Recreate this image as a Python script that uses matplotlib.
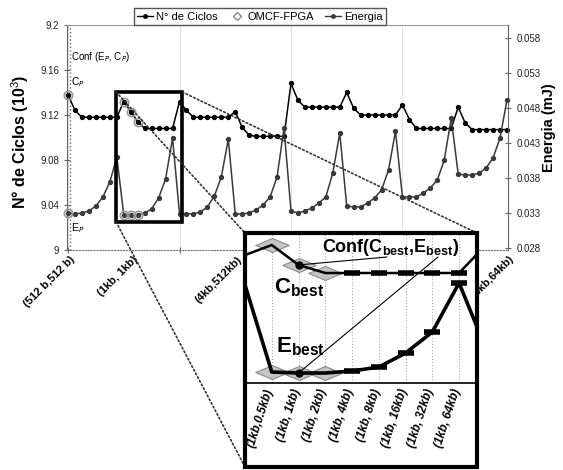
import matplotlib.pyplot as plt
import numpy as np
import matplotlib.transforms as mtransforms
from matplotlib.patches import Rectangle, ConnectionPatch
from matplotlib.lines import Line2D
from matplotlib.path import Path

plt.rcParams['font.family'] = ['Liberation Sans', 'DejaVu Sans']
plt.rcParams['mathtext.fontset'] = 'custom'
plt.rcParams['mathtext.rm'] = 'Liberation Sans'
plt.rcParams['mathtext.bf'] = 'Liberation Sans:bold'

W, H = 563, 470

# Nº de ciclos (10^3), 8 grupos de cache I x 8 tamaños de cache D
ciclos = [
    9.138, 9.124, 9.118, 9.118, 9.118, 9.118, 9.118, 9.118,
    9.132, 9.123, 9.114, 9.108, 9.108, 9.108, 9.108, 9.108,
    9.132, 9.124, 9.118, 9.118, 9.118, 9.118, 9.118, 9.118,
    9.123, 9.109, 9.102, 9.101, 9.101, 9.101, 9.101, 9.101,
    9.148, 9.133, 9.127, 9.127, 9.127, 9.127, 9.127, 9.127,
    9.140, 9.126, 9.120, 9.120, 9.120, 9.120, 9.120, 9.120,
    9.129, 9.116, 9.108, 9.108, 9.108, 9.108, 9.108, 9.108,
    9.127, 9.113, 9.107, 9.107, 9.107, 9.107, 9.107, 9.107,
]

# Energia (mJ)
energia = [
    0.03300, 0.03286, 0.03300, 0.03329, 0.03400, 0.03529, 0.03743, 0.04100,
    0.03271, 0.03271, 0.03271, 0.03300, 0.03357, 0.03514, 0.03786, 0.04371,
    0.03286, 0.03286, 0.03286, 0.03314, 0.03386, 0.03543, 0.03814, 0.04357,
    0.03286, 0.03286, 0.03300, 0.03343, 0.03414, 0.03529, 0.03814, 0.04514,
    0.03329, 0.03300, 0.03329, 0.03371, 0.03443, 0.03529, 0.03871, 0.04443,
    0.03400, 0.03386, 0.03386, 0.03443, 0.03514, 0.03629, 0.03914, 0.04471,
    0.03529, 0.03529, 0.03529, 0.03586, 0.03657, 0.03771, 0.04057, 0.04657,
    0.03857, 0.03843, 0.03843, 0.03871, 0.03943, 0.04086, 0.04371, 0.04914,
]

omcf_idx = [0, 8, 9, 10]

etiquetas_x = ['(512 b,512 b)', '(1kb, 1kb)', '(4kb,512kb)', '(64kb,64kb)']
pos_etiquetas = [0, 9, 24, 63]

ticks_y1 = [9, 9.04, 9.08, 9.12, 9.16, 9.2]
etiq_y1 = ['9', '9.04', '9.08', '9.12', '9.16', '9.2']
ticks_y2 = [0.028, 0.033, 0.038, 0.043, 0.048, 0.053, 0.058]
etiq_y2 = ['0.028', '0.033', '0.038', '0.043', '0.048', '0.053', '0.058']

# Zoom: configuraciones (1kb, D), con el punto anterior y el siguiente
etiquetas_zoom = ['(1kb,0.5kb)', '(1kb, 1kb)', '(1kb, 2kb)', '(1kb, 4kb)',
                  '(1kb, 8kb)', '(1kb, 16kb)', '(1kb, 32kb)', '(1kb, 64kb)']
x_zoom = [-1, 0, 1, 2, 3, 4, 5, 6, 7, 8]
ciclos_zoom = [9.1234, 9.132, 9.1149, 9.108, 9.108, 9.108, 9.108, 9.108, 9.108, 9.132]
energia_zoom = [0.04347, 0.03283, 0.03271, 0.03271, 0.03295, 0.03344,
                0.03515, 0.03772, 0.04371, 0.0357]
omcf_zoom = [0, 1, 2]
best_zoom = 1


def fx(x):
    return x / W


def fy(y):
    return 1 - y / H


fig = plt.figure(figsize=(W / 100, H / 100), dpi=100)

# ---------------- grafica principal ----------------
ax = fig.add_axes([fx(67), fy(250), (508 - 67) / W, (250 - 25) / H])
x = np.arange(len(ciclos))
ax.plot(x, ciclos, '-o', color='black', lw=1.1, ms=2.8, zorder=3, clip_on=False)
ax.plot(omcf_idx, [ciclos[i] for i in omcf_idx], 'o', ls='none', mfc='none',
        mec='#999999', ms=6, mew=1.2, zorder=4, clip_on=False)
ax.set_xlim(-0.15, 63.15)
ax.set_ylim(9, 9.2)
ax.set_yticks(ticks_y1, etiq_y1)
ax.tick_params(axis='y', labelsize=7, direction='inout', length=4, color='#666666',
               labelcolor='#222222')

ax.xaxis.remove_overlapping_locs = False
ax.set_xticks([0, 16, 32, 48])
ax.set_xticklabels([])
ax.tick_params(axis='x', which='major', direction='inout', length=4, color='#666666')
ax.set_xticks(pos_etiquetas, etiquetas_x, minor=True)
ax.tick_params(axis='x', which='minor', length=0, pad=3, labelsize=8)
desplaza = mtransforms.ScaledTranslation(9 / 100, 0, fig.dpi_scale_trans)
for lbl in ax.get_xticklabels(minor=True):
    lbl.set_rotation(45)
    lbl.set_ha('right')
    lbl.set_va('top')
    lbl.set_fontweight('bold')
    lbl.set_transform(lbl.get_transform() + desplaza)
ax.grid(True, axis='x', which='major', color='#dddddd', lw=0.6)
ax.axvline(0.35, ls=':', color='#666666', lw=1.0)

ax.spines['bottom'].set_linestyle(':')
ax.spines['bottom'].set_color('#777777')
ax.spines['top'].set_color('#999999')
ax.spines['top'].set_linewidth(0.8)
ax.spines['left'].set_color('#666666')
ax.spines['left'].set_linewidth(0.8)
ax.spines['right'].set_visible(False)

ax2 = ax.twinx()
ax2.plot(x, energia, '-o', color='#3a3a3a', lw=1.1, ms=2.8, zorder=3, clip_on=False)
ax2.plot(omcf_idx, [energia[i] for i in omcf_idx], 'o', ls='none', mfc='none',
         mec='#999999', ms=6, mew=1.2, zorder=4, clip_on=False)
ax2.set_ylim(0.0277, 0.0599)
ax2.set_yticks(ticks_y2, etiq_y2)
ax2.tick_params(axis='y', labelsize=7, direction='inout', length=5, color='#666666',
                labelcolor='#222222')
for s in ['top', 'bottom', 'left']:
    ax2.spines[s].set_visible(False)
ax2.spines['right'].set_color('#666666')
ax2.spines['right'].set_linewidth(0.8)

# recuadro de la zona ampliada
caja = Rectangle((6.9, 9.0249), 16.4 - 6.9, 9.1404 - 9.0249, fill=False, lw=2.6,
                 ec='black', zorder=6, transform=ax.transData)
ax2.add_patch(caja)

fig.text(fx(71), fy(57), 'Conf (E$_P$, C$_P$)', fontsize=7, va='center')
fig.text(fx(71), fy(82), 'C$_P$', fontsize=7.5, va='center')
fig.text(fx(71), fy(228), 'E$_P$', fontsize=7.5, va='center')

fig.text(fx(20), fy(142), 'N° de Ciclos (10$^3$)', rotation=90, fontsize=11.5,
         fontweight='bold', ha='center', va='center')
fig.text(fx(549), fy(128), 'Energia (mJ)', rotation=90, fontsize=10.5,
         fontweight='bold', ha='center', va='center')

handles = [
    Line2D([], [], color='black', marker='o', ms=2.5, lw=1),
    Line2D([], [], ls='none', marker='D', mfc='none', mec='#888888', ms=4),
    Line2D([], [], color='#3a3a3a', marker='o', ms=2.5, lw=1),
]
leg = fig.legend(handles, ['N° de Ciclos', 'OMCF-FPGA', 'Energia'], loc='center',
                 bbox_to_anchor=(fx(260), fy(16.5)), ncol=3, fontsize=8,
                 frameon=True, fancybox=False, edgecolor='#555555', framealpha=1,
                 borderpad=0.3, handlelength=1.4, handletextpad=0.3,
                 columnspacing=1.0)

# lineas punteadas hacia la ampliacion
estilo = dict(ls=(0, (1, 1.5)), lw=1.2, color='#333333', zorder=1)
for xa, ya, xb, yb in [(6.9, 9.1404, 245, 233), (16.4, 9.1404, 477, 233),
                       (6.9, 9.0249, 245, 467)]:
    con = ConnectionPatch(xyA=(xa, ya), coordsA=ax.transData,
                          xyB=(fx(xb), fy(yb)), coordsB=fig.transFigure, **estilo)
    fig.add_artist(con)

# ---------------- ampliacion ----------------
fig.add_artist(Rectangle((fx(245), fy(467)), 232 / W, 234 / H, transform=fig.transFigure,
                         facecolor='white', edgecolor='none', zorder=1.5))

axi = fig.add_axes([fx(245), fy(383), 232 / W, 150 / H], zorder=2)
rombo = Path([(-1, 0), (0, 0.42), (1, 0), (0, -0.42), (-1, 0)],
             [Path.MOVETO, Path.LINETO, Path.LINETO, Path.LINETO, Path.CLOSEPOLY])

axi.plot(x_zoom, ciclos_zoom, '-', color='black', lw=1.8, zorder=3)
axi.plot(omcf_zoom, [ciclos_zoom[x_zoom.index(i)] for i in omcf_zoom], ls='none',
         marker=rombo, ms=24, mfc='#c4c4c4', mec='#8c8c8c', mew=0.8, zorder=2)
axi.plot([best_zoom], [ciclos_zoom[x_zoom.index(best_zoom)]], 'o', color='black',
         ms=5, zorder=4)
axi.plot(x_zoom[4:9], ciclos_zoom[4:9], ls='none', marker='_', ms=11, mew=4,
         color='black', zorder=4)
axi.set_xlim(-1, 7.67)
axi.set_ylim(9.0137, 9.1423)
axi.set_yticks([])
axi.set_xticks(range(len(etiquetas_zoom)), etiquetas_zoom)
axi.tick_params(axis='x', length=0, pad=3, labelsize=8.5)
desplaza_i = mtransforms.ScaledTranslation(4 / 100, 0, fig.dpi_scale_trans)
for lbl in axi.get_xticklabels():
    lbl.set_rotation(72)
    lbl.set_ha('right')
    lbl.set_va('top')
    lbl.set_fontweight('bold')
    lbl.set_fontstyle('italic')
    lbl.set_transform(lbl.get_transform() + desplaza_i)
axi.grid(True, axis='x', color='#aaaaaa', ls=':', lw=0.8)
for s in ['top', 'left', 'right']:
    axi.spines[s].set_visible(False)
axi.spines['bottom'].set_linewidth(1.2)

axi2 = axi.twinx()
axi2.plot(x_zoom, energia_zoom, '-', color='black', lw=2.6, zorder=3)
axi2.plot(omcf_zoom, [energia_zoom[x_zoom.index(i)] for i in omcf_zoom], ls='none',
          marker=rombo, ms=24, mfc='#c4c4c4', mec='#8c8c8c', mew=0.8, zorder=2)
axi2.plot([best_zoom], [energia_zoom[x_zoom.index(best_zoom)]], 'o', color='black',
          ms=5, zorder=4)
axi2.plot(x_zoom[4:9], energia_zoom[4:9], ls='none', marker='_', ms=11, mew=4,
          color='black', zorder=4)
axi2.set_ylim(0.03149, 0.04982)
axi2.set_yticks([])
for s in axi2.spines.values():
    s.set_visible(False)

fig.add_artist(Rectangle((fx(245), fy(467)), 232 / W, 234 / H, transform=fig.transFigure,
                         fill=False, lw=3, edgecolor='black', zorder=3))

fig.text(fx(322), fy(248), r'Conf(C$_{\mathbf{best}}$,E$_{\mathbf{best}}$)', fontsize=13,
         fontweight='bold', va='center', zorder=5)
fig.text(fx(274), fy(288), r'C$_{\mathbf{best}}$', fontsize=16, fontweight='bold',
         va='center', zorder=5)
fig.text(fx(276), fy(347), r'E$_{\mathbf{best}}$', fontsize=16, fontweight='bold',
         va='center', zorder=5)

for eje, serie, xt in [(axi, ciclos_zoom, 387), (axi2, energia_zoom, 438)]:
    con = ConnectionPatch(xyA=(best_zoom, serie[x_zoom.index(best_zoom)]),
                          coordsA=eje.transData, xyB=(fx(xt), fy(257)),
                          coordsB=fig.transFigure, lw=0.8, color='black', zorder=5)
    fig.add_artist(con)

fig.savefig('out.png', dpi=100)
